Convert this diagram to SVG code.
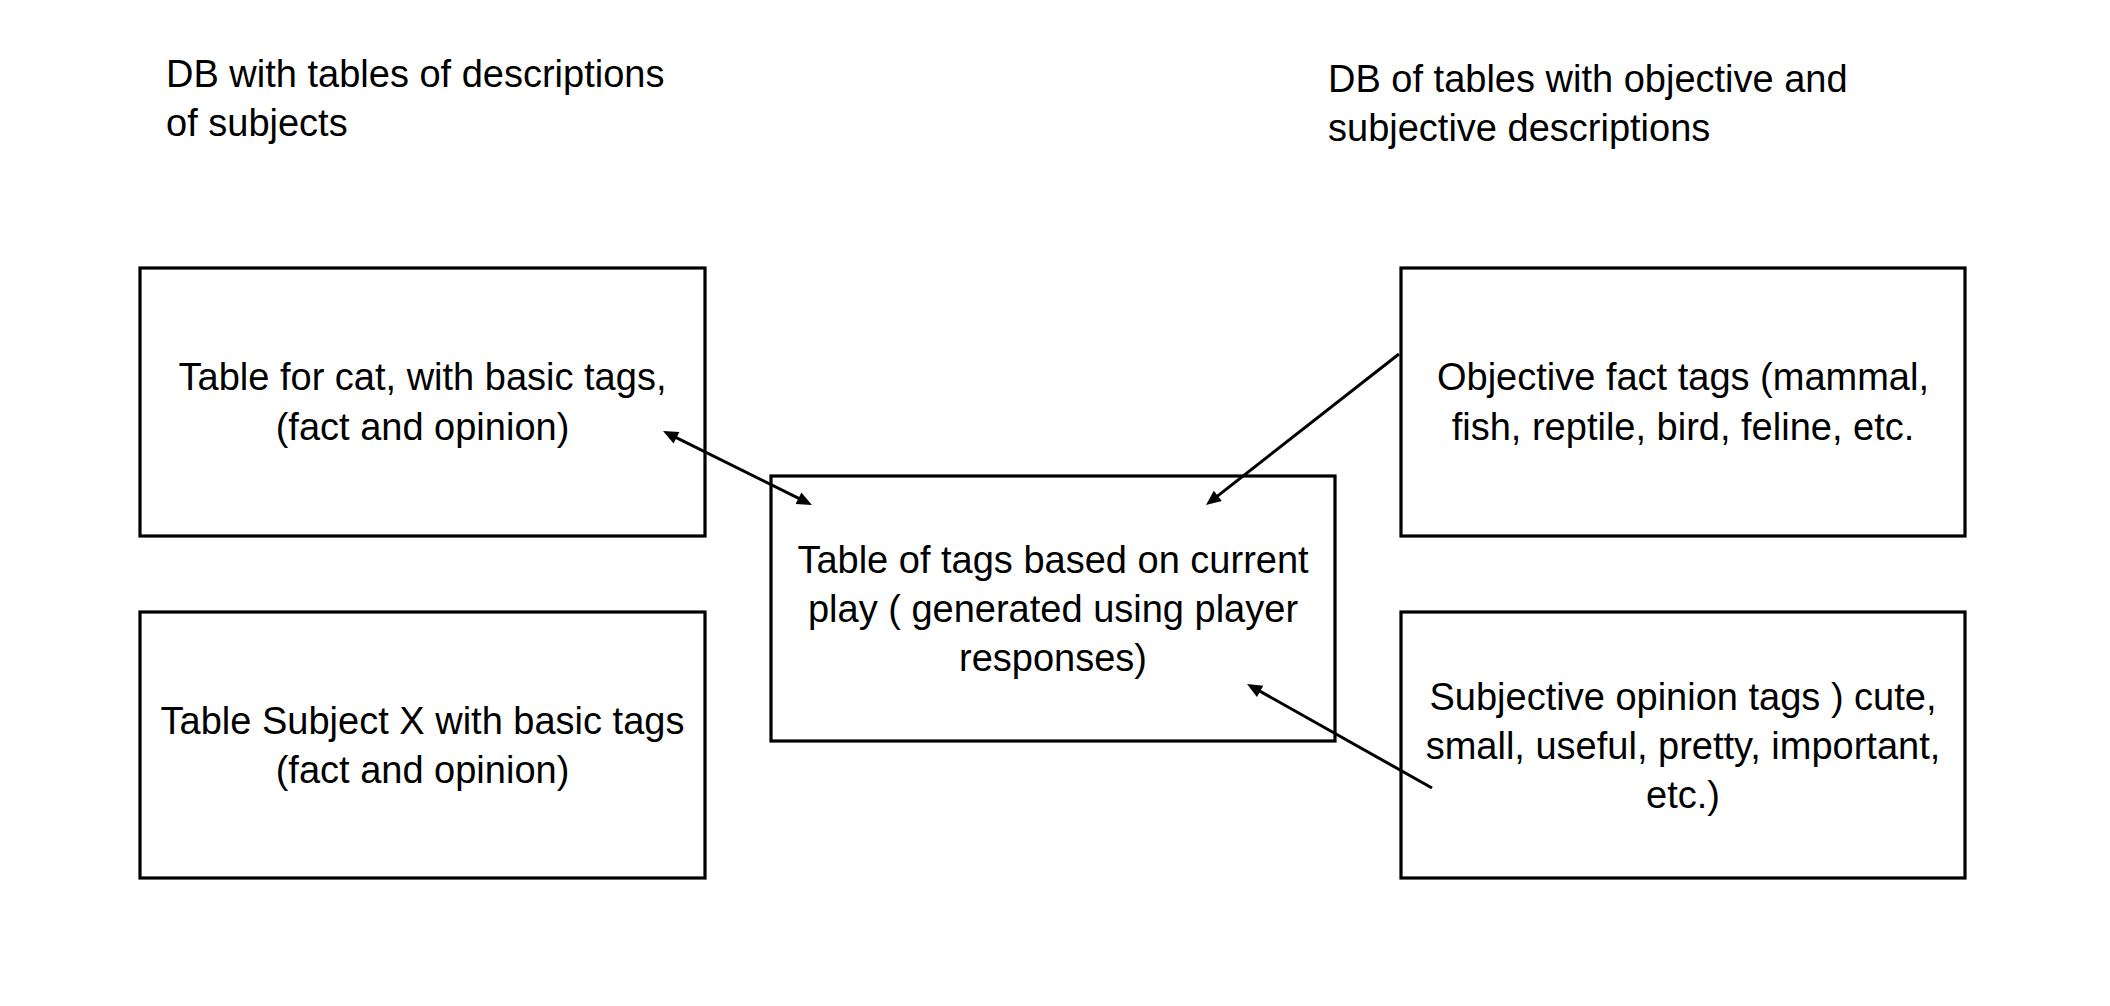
<svg xmlns="http://www.w3.org/2000/svg" width="2110" height="1006" viewBox="0 0 2110 1006">
<style>
  .box { fill: #ffffff; stroke: #000000; stroke-width: 3.2; }
  .t { font-family: "Liberation Sans", Arial, sans-serif; font-size: 38px; fill: #000000; }
  .c { text-anchor: middle; }
  .conn { stroke: #000000; stroke-width: 3; fill: none; }
</style>
<defs>
  <marker id="ah" markerUnits="userSpaceOnUse" markerWidth="20" markerHeight="16" viewBox="0 -8 18 16" refX="7" refY="0" orient="auto-start-reverse">
    <path d="M0,-6.5 L15,0 L0,6.5 Z" fill="#000000"/>
  </marker>
</defs>
<rect width="2110" height="1006" fill="#ffffff"/>

<g id="title-left">
  <text class="t" x="166" y="87">DB with tables of descriptions</text>
  <text class="t" x="166" y="136">of subjects</text>
</g>
<g id="title-right">
  <text class="t" x="1328" y="92">DB of tables with objective and</text>
  <text class="t" x="1328" y="141">subjective descriptions</text>
</g>

<g id="node-cat">
  <rect class="box" x="140" y="268" width="565" height="268"/>
  <text class="t c" x="422.5" y="390">Table for cat, with basic tags,</text>
  <text class="t c" x="422.5" y="440">(fact and opinion)</text>
</g>
<g id="node-subjectx">
  <rect class="box" x="140" y="612" width="565" height="266"/>
  <text class="t c" x="422.5" y="734">Table Subject X with basic tags</text>
  <text class="t c" x="422.5" y="783">(fact and opinion)</text>
</g>
<g id="node-current">
  <rect class="box" x="771" y="476" width="564" height="265"/>
  <text class="t c" x="1053" y="573">Table of tags based on current</text>
  <text class="t c" x="1053" y="622">play ( generated using player</text>
  <text class="t c" x="1053" y="671">responses)</text>
</g>
<g id="node-objective">
  <rect class="box" x="1401" y="268" width="564" height="268"/>
  <text class="t c" x="1683" y="390">Objective fact tags (mammal,</text>
  <text class="t c" x="1683" y="440">fish, reptile, bird, feline, etc.</text>
</g>
<g id="node-subjective">
  <rect class="box" x="1401" y="612" width="564" height="266"/>
  <text class="t c" x="1683" y="710">Subjective opinion tags ) cute,</text>
  <text class="t c" x="1683" y="759">small, useful, pretty, important,</text>
  <text class="t c" x="1683" y="808">etc.)</text>
</g>

<g id="connectors">
  <line class="conn" x1="670.2" y1="434.6" x2="804.8" y2="501.4" marker-start="url(#ah)" marker-end="url(#ah)"/>
  <line class="conn" x1="1399" y1="354" x2="1212.3" y2="500.1" marker-end="url(#ah)"/>
  <line class="conn" x1="1432" y1="788" x2="1254" y2="687.9" marker-end="url(#ah)"/>
</g>
</svg>
